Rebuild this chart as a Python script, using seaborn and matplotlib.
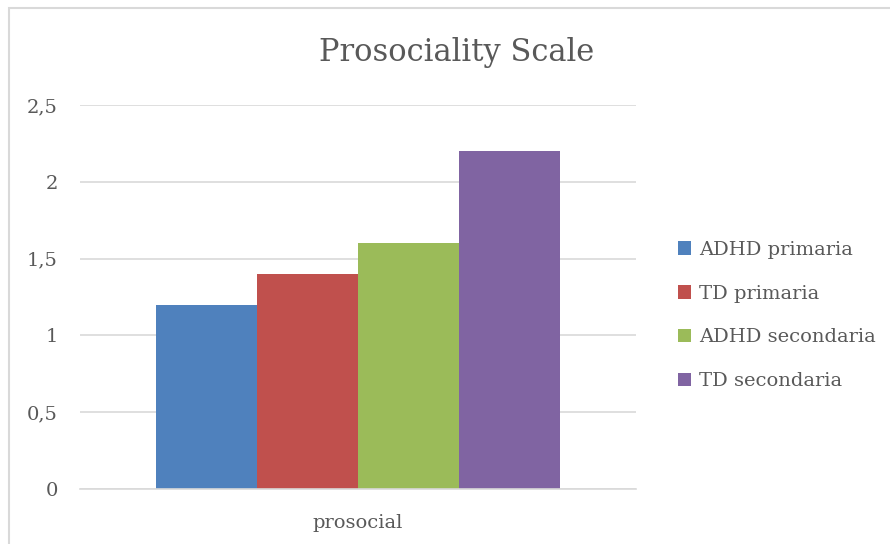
import matplotlib
matplotlib.use("Agg")
import matplotlib.pyplot as plt
import seaborn as sns
import pandas as pd
from matplotlib.patches import Rectangle

categories = ["prosocial"]
groups = ["ADHD primaria", "TD primaria", "ADHD secondaria", "TD secondaria"]
values = [1.2, 1.4, 1.6, 2.2]
colors = ["#4F81BD", "#C0504D", "#9BBB59", "#8064A2"]
yticks = [0, 0.5, 1, 1.5, 2, 2.5]
ytick_labels = ["0", "0,5", "1", "1,5", "2", "2,5"]
title = "Prosociality Scale"

df = pd.DataFrame({"category": categories * len(groups), "group": groups, "value": values})

sns.set_theme(style="white")
plt.rcParams["font.family"] = ["DejaVu Serif"]
txt = "#595959"

fig = plt.figure(figsize=(8.9, 5.44), dpi=100)
ax = fig.add_axes([80/890, 1-489/544, (636-80)/890, (489-105)/544])
sns.barplot(data=df, x="category", y="value", hue="group", hue_order=groups,
            palette=colors, width=0.8, saturation=1, ax=ax, legend=True)
for p in ax.patches:
    p.set_edgecolor("none")
ax.set_ylim(0, 2.5)
ax.set_xlim(-0.5505, 0.5505)
ax.set_yticks(yticks)
ax.set_yticklabels(ytick_labels)
ax.yaxis.grid(True, color="#D9D9D9", linewidth=1.2)
ax.set_axisbelow(True)
for s in ["top", "right", "left"]:
    ax.spines[s].set_visible(False)
ax.spines["bottom"].set_color("#D9D9D9")
ax.spines["bottom"].set_linewidth(1.2)
ax.tick_params(axis="y", length=0, pad=16, labelsize=14, labelcolor=txt)
ax.tick_params(axis="x", length=0, pad=18, labelsize=14, labelcolor=txt)
ax.set_xlabel("")
ax.set_ylabel("")
fig.text(457/890, 1-52/544, title, ha="center", va="center", fontsize=22, color=txt)

h, l = ax.get_legend_handles_labels()
ax.legend_.remove()
fig.legend(h, l, loc="upper left", bbox_to_anchor=(670/890, 1-233/544), frameon=False,
           fontsize=14, labelcolor=txt, handlelength=0.7, handleheight=0.7,
           handletextpad=0.4, labelspacing=1.33, borderaxespad=0)

fig.patches.append(Rectangle((9/890, -0.1), 1.2, 1-8/544+0.1, transform=fig.transFigure,
                             fill=False, edgecolor="#D9D9D9", linewidth=1.5))
fig.savefig("out.png", dpi=100)
